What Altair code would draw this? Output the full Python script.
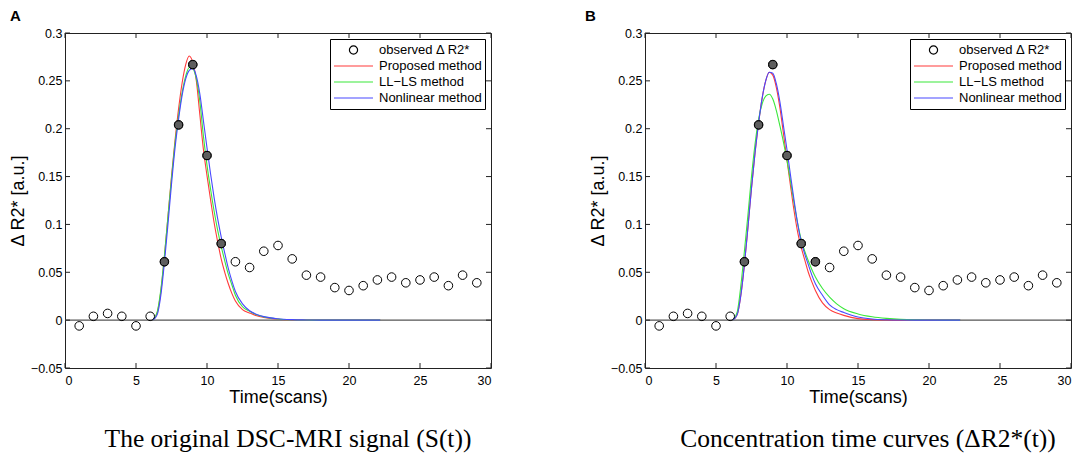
import altair as alt
import pandas as pd

# ---------------- data ----------------
scan = list(range(1, 30))
observed = [-0.006, 0.004, 0.007, 0.004, -0.006, 0.004, 0.061, 0.204, 0.267, 0.172,
            0.080, 0.061, 0.055, 0.072, 0.078, 0.064, 0.047, 0.045, 0.034, 0.031,
            0.036, 0.042, 0.045, 0.039, 0.042, 0.045, 0.036, 0.047, 0.039]
filled_A = [7, 8, 9, 10, 11]
filled_B = [7, 8, 9, 10, 11, 12]

fit_t = [6.2, 6.5, 6.75, 7.0, 7.25, 7.5, 7.75, 8.0, 8.25, 8.5, 8.75, 9.0, 9.25, 9.5,
         9.75, 10.0, 10.25, 10.5, 10.75, 11.0, 11.25, 11.5, 11.75, 12.0, 12.5, 13.0,
         13.5, 14.0, 15.0, 16.0, 17.0, 18.0, 20.0, 22.2]

a_proposed = [0, 0.008, 0.03, 0.066, 0.108, 0.15, 0.188, 0.221, 0.248, 0.267, 0.276, 0.269,
              0.25, 0.214, 0.178, 0.151, 0.126, 0.102, 0.082, 0.064, 0.05, 0.038, 0.028,
              0.02, 0.011, 0.0075, 0.0045, 0.0028, 0.0009, 0.0003, 0.0001, 0, 0, 0]
a_llls = [0, 0.009, 0.032, 0.067, 0.108, 0.148, 0.185, 0.214, 0.238, 0.255, 0.264, 0.263,
          0.252, 0.228, 0.192, 0.162, 0.137, 0.114, 0.094, 0.077, 0.062, 0.048, 0.037,
          0.026, 0.014, 0.0093, 0.0056, 0.0034, 0.0012, 0.0004, 0.0001, 0, 0, 0]
a_nonlinear = [0, 0.006, 0.026, 0.06, 0.1, 0.142, 0.18, 0.21, 0.235, 0.252, 0.261, 0.263,
               0.255, 0.236, 0.208, 0.18, 0.153, 0.128, 0.106, 0.087, 0.07, 0.054, 0.041,
               0.03, 0.017, 0.0098, 0.006, 0.0037, 0.0014, 0.0005, 0.0002, 0, 0, 0]

b_proposed = [0, 0.006, 0.026, 0.058, 0.097, 0.138, 0.175, 0.206, 0.232, 0.25, 0.259, 0.256,
              0.243, 0.222, 0.195, 0.167, 0.14, 0.114, 0.092, 0.076, 0.063, 0.05, 0.04,
              0.031, 0.018, 0.011, 0.0075, 0.005, 0.0016, 0.0005, 0.0001, 0, 0, 0]
b_llls = [0, 0.009, 0.036, 0.072, 0.11, 0.15, 0.184, 0.21, 0.226, 0.234, 0.236, 0.231,
          0.219, 0.203, 0.186, 0.167, 0.145, 0.122, 0.101, 0.084, 0.072, 0.062, 0.053,
          0.045, 0.033, 0.024, 0.017, 0.012, 0.0065, 0.0035, 0.0018, 0.0008, 0.0001, 0]
b_nonlinear = [0, 0.006, 0.026, 0.058, 0.097, 0.138, 0.175, 0.206, 0.232, 0.25, 0.259, 0.258,
               0.247, 0.228, 0.203, 0.178, 0.151, 0.125, 0.101, 0.082, 0.069, 0.058, 0.047,
               0.038, 0.026, 0.016, 0.011, 0.008, 0.0033, 0.0012, 0.0004, 0.0001, 0, 0]

x_ticks = [0, 5, 10, 15, 20, 25, 30]
y_ticks = [-0.05, 0, 0.05, 0.1, 0.15, 0.2, 0.25, 0.3]

labels = ["observed \u0394 R2*", "Proposed method", "LL\u2212LS method", "Nonlinear method"]
colors = ["#000000", "#ff3b3b", "#3be83b", "#4848ff"]
circle_path = "M-0.21,0A0.21,0.21 0 1,0 0.21,0A0.21,0.21 0 1,0 -0.21,0Z"
line_path = "M-1,0L1,0"
shapes = [circle_path, line_path, line_path, line_path]

W, H = 426, 335
FONT = "Liberation Sans"

xs = alt.Scale(domain=[0, 30], nice=False, zero=False)
ys = alt.Scale(domain=[-0.05, 0.3], nice=False, zero=False)
color_scale = alt.Scale(domain=labels, range=colors)
shape_scale = alt.Scale(domain=labels, range=shapes)

legend = alt.Legend(
    title=None, orient="top-right", offset=6, padding=3, clipHeight=16, rowPadding=0,
    symbolSize=1521, labelOffset=5, labelFontSize=13, labelFont=FONT, labelColor="black",
    strokeColor="black", fillColor="white", symbolStrokeWidth=1.2, labelLimit=300,
)

common_axis = dict(labelFont=FONT, labelFontSize=12.5, labelColor="black",
                   titleFont=FONT, titleFontSize=18, titleFontWeight="normal",
                   titleColor="black", grid=False, ticks=False, domain=False)
x_axis = alt.Axis(values=x_ticks, format="d", title="Time(scans)", labelPadding=6,
                  titlePadding=2, **common_axis)
y_axis = alt.Axis(values=y_ticks, format=".2~f", title="\u0394 R2* [a.u.]",
                  labelPadding=3, titlePadding=3, **common_axis)


def X(field="t"):
    return alt.X(f"{field}:Q", scale=xs, axis=x_axis)


def Y(field="v"):
    return alt.Y(f"{field}:Q", scale=ys, axis=y_axis)


def panel(letter, letter_dx, caption, curves, filled):
    fit_rows = []
    for name, vals in zip(labels[1:], curves):
        for t, v in zip(fit_t, vals):
            fit_rows.append({"t": t, "v": v, "series": name})
    fit_df = pd.DataFrame(fit_rows)
    obs_df = pd.DataFrame({"t": scan, "v": observed, "series": labels[0]})
    fill_df = obs_df[obs_df["t"].isin(filled)]

    zero = alt.Chart(pd.DataFrame({"v": [0]})).mark_rule(
        color="#555555", strokeWidth=1.2
    ).encode(y=Y(), x=alt.value(0), x2=alt.value(W))

    lines = alt.Chart(fit_df).mark_line(strokeWidth=1.1, interpolate="monotone").encode(
        x=X(), y=Y(),
        color=alt.Color("series:N", scale=color_scale, legend=legend, sort=labels),
        order=alt.Order("t:Q"),
    )

    open_pts = alt.Chart(obs_df).mark_point(
        filled=False, size=1680, strokeWidth=1, opacity=1
    ).encode(
        x=X(), y=Y(),
        color=alt.Color("series:N", scale=color_scale, legend=legend, sort=labels),
        shape=alt.Shape("series:N", scale=shape_scale, legend=legend, sort=labels),
    )

    fill_pts = alt.Chart(fill_df).mark_circle(
        size=66, fill="#5e5e5e", stroke="#000000", strokeWidth=1, opacity=1
    ).encode(x=X(), y=Y())

    xt = pd.DataFrame({"t": x_ticks})
    yt = pd.DataFrame({"v": y_ticks})
    tick_style = dict(color="#222222", strokeWidth=1)
    bottom = alt.Chart(xt).mark_rule(**tick_style).encode(
        x=X(), y=alt.value(H), y2=alt.value(H - 5))
    top = alt.Chart(xt).mark_rule(**tick_style).encode(
        x=X(), y=alt.value(0), y2=alt.value(5))
    left = alt.Chart(yt).mark_rule(**tick_style).encode(
        y=Y(), x=alt.value(0), x2=alt.value(5))
    right = alt.Chart(yt).mark_rule(**tick_style).encode(
        y=Y(), x=alt.value(W - 5), x2=alt.value(W))

    tag = alt.Chart(pd.DataFrame({"s": [letter]})).mark_text(
        font=FONT, fontSize=15, fontWeight="bold", align="left", baseline="alphabetic",
        color="black"
    ).encode(text="s:N", x=alt.value(letter_dx), y=alt.value(-12))

    return alt.layer(zero, lines, open_pts, fill_pts, bottom, top, left, right, tag).properties(
        width=W, height=H,
        title=alt.TitleParams(
            text=caption, orient="bottom", anchor="middle", font="Liberation Serif",
            fontSize=25.5, fontWeight="normal", color="black", dx=10, offset=20,
        ),
    )


pA = panel("A", -55, "The original DSC-MRI signal (S(t))",
           [a_proposed, a_llls, a_nonlinear], filled_A)
pB = panel("B", -60, "Concentration time curves (\u0394R2*(t))",
           [b_proposed, b_llls, b_nonlinear], filled_B)

chart = alt.hconcat(pA, pB, spacing=91).resolve_scale(
    color="independent", shape="independent"
).properties(
    padding={"left": 0, "top": 0, "right": 0, "bottom": 0}, background="white"
).configure_view(stroke="#222222", strokeWidth=1)

chart.save("out.html", embed_options={"renderer": "svg", "actions": False})
